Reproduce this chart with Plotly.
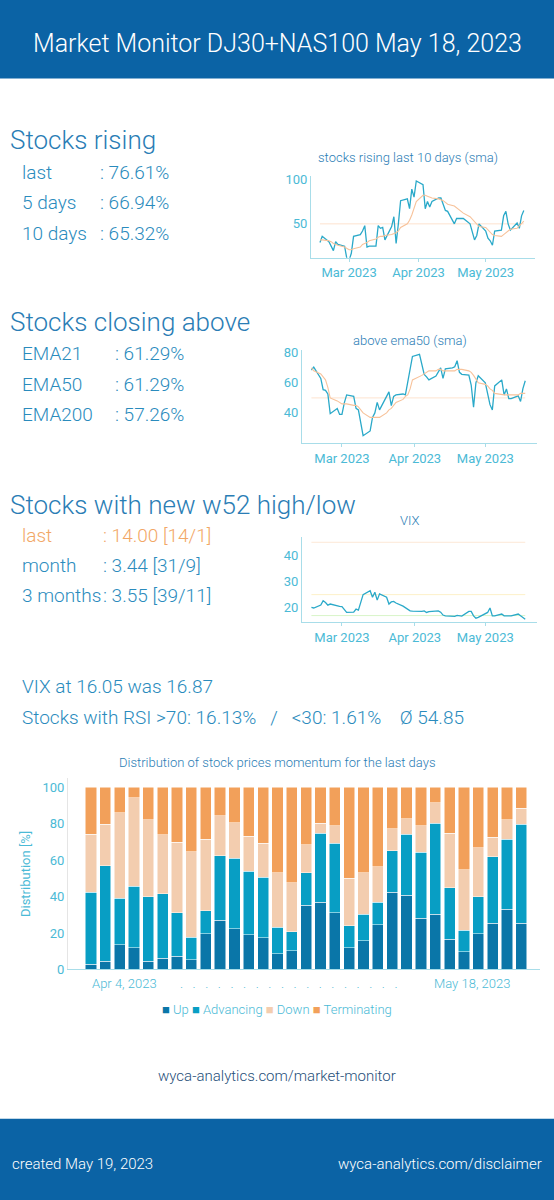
import plotly.graph_objects as go
import pandas as pd

dates = pd.bdate_range("2023-02-16", "2023-05-18")

rising = [29,36,30,25,20,30,27,25,11,9,17,36,38,42,48,24,25,25,48,45,46,32,47,58,28,50,76,78,67,89,
          80,98,94,67,75,69,75,79,79,72,65,64,50,56,56,56,56,50,41,32,37,50,42,34,31,26,42,43,59,64,
          50,43,51,45,59,65]
rising_sma = [32,32,31,30,28,27,26,24,22,21,21,22,24,27,28,29,31,33,35,36,36,37,38,39,40,42,46,50,54,60,
              67,75,82,82,81,80,79,78,77,76,74,72,70,68,66,64,62,58,55,52,49,47,46,43,40,38,37,36,38,40,
              42,44,45,48,50,53]
ema50 = [68.6,70.5,63,55.5,55,52.6,39.5,43,39,39,46.7,52,51,43,42,33.6,24.8,28,37,40,47,42,51.4,54,44.8,
         51,52,52.6,52,60,68.6,77.6,79,73,65.7,64,62,64.5,67,70,63,69.3,70,70.7,74.8,67,65.7,65.2,58.6,
         43.8,60,64.8,60,52,45.5,42,58,62,52,56,49.5,49.5,51.4,47.6,56.2,61.4]
ema50_sma = [70,68,66,64,62,57,50,48,47,46,46,46,45,45,44,42,40,37,37,37,37,37,40,42,43,45,47,49,51,52,
             56,62,64,65,66,67,68,68,69,69,68,68,68,68,69,69,69,68,67,65,62,60,59,58,56,55,53,52,52,52,
             52,52,52,53,53,53]
vix = [20.1,19.9,21,22.7,22,21,21.4,20.6,20.5,20.4,19.5,18.2,18.3,19.5,19.1,22,25,26.5,24,25.9,22.9,25.3,
       24,21.4,22.2,22.4,21.8,20.6,19.9,19.2,18.8,18.7,18.5,18.6,18.8,18.2,18.5,18.7,18.8,18.3,17.2,16.9,
       16.8,16.7,17.1,16.8,16.8,18.6,18.6,16.9,16,16.3,17.8,18.2,19.9,16.9,16.9,17.6,16.9,16.8,16.9,16.9,
       17.6,16.9,16.3,15.6]

bar_cats = list(range(31))
bar_ticks = ["Apr 4, 2023", "May 18, 2023"]
up = [2.8,4.6,13.5,11.8,4.6,6.1,7.2,5.4,19.7,27.1,22.3,19.2,17.5,8.7,10.3,35.2,36.9,31.2,12.0,15.9,24.7,
      42.4,40.8,28.0,30.3,16.6,9.6,19.7,25.5,33.0,25.5]
adv = [39.6,52.4,25.6,34.0,35.4,35.6,24.0,12.3,12.6,35.4,38.8,34.7,33.1,14.5,10.4,17.8,38.0,38.0,12.0,14.5,
       12.2,22.7,33.4,36.4,50.1,28.4,12.0,20.3,36.3,38.4,54.2]
down = [31.8,22.7,47.1,48.5,42.1,32.3,38.7,46.9,39.3,22.0,19.5,19.3,18.6,29.9,26.9,15.5,5.5,9.6,26.0,22.7,
        19.4,12.2,8.6,14.4,11.3,29.9,33.2,26.8,10.7,10.7,8.9]
term = [25.8,20.3,13.8,5.7,17.9,26.0,30.1,35.4,28.4,15.5,19.4,26.8,30.8,46.9,52.4,31.5,19.6,21.2,50.0,46.9,
        43.7,22.7,17.2,21.2,8.3,25.1,45.2,33.2,27.5,17.9,11.4]
series = [("Up", up, "#0a76a8"), ("Advancing", adv, "#089ec4"),
          ("Down", down, "#f3cdaf"), ("Terminating", term, "#f2a05a")]

W, H = 554, 1200
def py(p):
    q = (p - 4.5) / 0.989
    return 1 - q / H
def px(p): return p / W

FONT = "Roboto"
BLUE_T = "#2a7db5"
TICK = "#4bbad6"
LINE = "#2aa9c9"
ORG = "#f7c29a"

fig = go.Figure()

specs = [
    ("x", "y", rising, rising_sma, (311, 535), (176, 258), [50, 100], [12, 104]),
    ("x2", "y2", ema50, ema50_sma, (302, 537), (350, 443), [40, 60, 80], [20, 82]),
    ("x3", "y3", vix, None, (302, 537), (537, 622), [20, 30, 40], [14.5, 47]),
]
for i, (xa, ya, s, sm, xd, yd, tv, yr) in enumerate(specs):
    fig.add_trace(go.Scatter(x=dates, y=s, xaxis=xa, yaxis=ya, mode="lines",
                             line=dict(color=LINE, width=1.3), showlegend=False))
    if sm is not None:
        fig.add_trace(go.Scatter(x=dates, y=sm, xaxis=xa, yaxis=ya, mode="lines",
                                 line=dict(color=ORG, width=1.1), showlegend=False))
    n = "" if i == 0 else str(i + 1)
    fig.layout["xaxis" + n] = dict(domain=[px(xd[0]), px(xd[1])], anchor=ya,
                                   range=[pd.Timestamp("2023-02-12"), pd.Timestamp("2023-05-23")],
                                   tickvals=["2023-03-01", "2023-04-01", "2023-05-01"],
                                   ticktext=["Mar 2023", "Apr 2023", "May 2023"],
                                   showgrid=False, showline=True, linecolor="#a8dde9",
                                   ticks="outside", ticklen=3, tickcolor="#a8dde9",
                                   tickfont=dict(color=TICK, size=13, family=FONT))
    fig.layout["yaxis" + n] = dict(domain=[py(yd[1]), py(yd[0])], anchor=xa, range=yr,
                                   tickvals=tv, showgrid=False, zeroline=False,
                                   showline=True, linecolor="#a8dde9",
                                   tickfont=dict(color=TICK, size=13, family=FONT))

for xa, ya, yv, col in [("x", "y", 50, "#fde3cf"), ("x2", "y2", 50, "#fde3cf"),
                        ("x3", "y3", 45, "#fde8d6"), ("x3", "y3", 25, "#fdf1c8"), ("x3", "y3", 17, "#d8f5c8")]:
    fig.add_shape(type="line", xref=xa, yref=ya, x0="2023-02-16", x1="2023-05-18", y0=yv, y1=yv,
                  line=dict(color=col, width=1), layer="below")

for name, vals, col in series:
    fig.add_trace(go.Bar(x=bar_cats, y=vals, name=name, marker=dict(color=col, line=dict(color="#ffffff", width=0.5)),
                         xaxis="x4", yaxis="y4", width=0.78, showlegend=False))
fig.update_layout(barmode="stack")
fig.layout.xaxis4 = dict(domain=[px(68), px(540)], anchor="y4", range=[-1.6, 31.3],
                         showticklabels=False, showline=True, linecolor="#a8dde9",
                         showgrid=False, ticks="")
fig.layout.yaxis4 = dict(domain=[py(969), py(778)], anchor="x4", range=[0, 105],
                         tickvals=[0, 20, 40, 60, 80, 100], showgrid=False, zeroline=False,
                         showline=True, linecolor="#e5e5e5",
                         tickfont=dict(color=TICK, size=13, family=FONT),
                         title=dict(text="Distribution [%]", font=dict(color=TICK, size=13, family=FONT), standoff=8))

fig.update_layout(
    autosize=True, margin=dict(l=0, r=0, t=0, b=0),
    plot_bgcolor="white", paper_bgcolor="white",
    font=dict(family=FONT), showlegend=False,
)

fig.add_shape(type="rect", xref="paper", yref="paper", x0=0, x1=1, y0=py(79), y1=1.02,
              fillcolor="#0b63a5", line_width=0, layer="below")
fig.add_shape(type="rect", xref="paper", yref="paper", x0=0, x1=1, y0=-0.02, y1=py(1118),
              fillcolor="#0b63a5", line_width=0, layer="below")

def txt(x, y, t, size, color=BLUE_T, anchor="left", weight=300):
    fig.add_annotation(xref="paper", yref="paper", x=px(x), y=py(y), text=t, showarrow=False,
                       xanchor=anchor, yanchor="middle",
                       font=dict(family=FONT, size=size, color=color, weight=weight))

txt(277, 44, "Market Monitor DJ30+NAS100 May 18, 2023", 25, "white", "center")
txt(8, 140, "Stocks rising", 26)
STAT = "#2a8bbd"
for y, a, b in [(173, "last", ": 76.61%"), (203, "5 days", ": 66.94%"), (234, "10 days", ": 65.32%")]:
    txt(20, y, a, 19, STAT); txt(98, y, b, 19, STAT)
txt(8, 322, "Stocks closing above", 26)
for y, a, b in [(354, "EMA21", ": 61.29%"), (385, "EMA50", ": 61.29%"), (415, "EMA200", ": 57.26%")]:
    txt(20, y, a, 19, STAT); txt(113, y, b, 19, STAT)
txt(8, 505, "Stocks with new w52 high/low", 26)
for y, a, b, c in [(535, "last", ": 14.00 [14/1]", "#f2a766"), (565, "month", ": 3.44 [31/9]", STAT),
                   (595, "3 months", ": 3.55 [39/11]", STAT)]:
    txt(20, y, a, 19, c); txt(101, y, b, 19, c)
txt(408, 158, "stocks rising last 10 days (sma)", 13, BLUE_T, "center")
txt(410, 341, "above ema50 (sma)", 13, BLUE_T, "center")
txt(410, 520, "VIX", 13, BLUE_T, "center")
txt(20, 686, "VIX at 16.05 was 16.87", 19, STAT)
txt(20, 717, "Stocks with RSI >70: 16.13%   /   <30: 1.61%    Ø 54.85", 19, STAT)
txt(277, 762, "Distribution of stock prices momentum for the last days", 13, BLUE_T, "center")
txt(124, 983, bar_ticks[0], 13, TICK, "center")
txt(472, 983, bar_ticks[1], 13, TICK, "center")
txt(289, 983, ".   .   .   .   .   .   .   .   .   .   .   .   .   .   .   .   .   .", 13, TICK, "center")
leg = " ".join(f'<span style="color:{c}">■</span> {n}' for n, _, c in series)
txt(277, 1009, leg, 13, TICK, "center")
txt(277, 1075, "wyca-analytics.com/market-monitor", 15, "#1f4f7a", "center")
txt(10, 1163, "created May 19, 2023", 15, "white")
txt(544, 1163, "wyca-analytics.com/disclaimer", 15, "white", "right")

fig.write_html("out.html", default_width="100vw", default_height="100vh",
               config={"displayModeBar": False, "responsive": True},
               post_script="document.body.style.margin='0';document.body.style.overflow='hidden';")
